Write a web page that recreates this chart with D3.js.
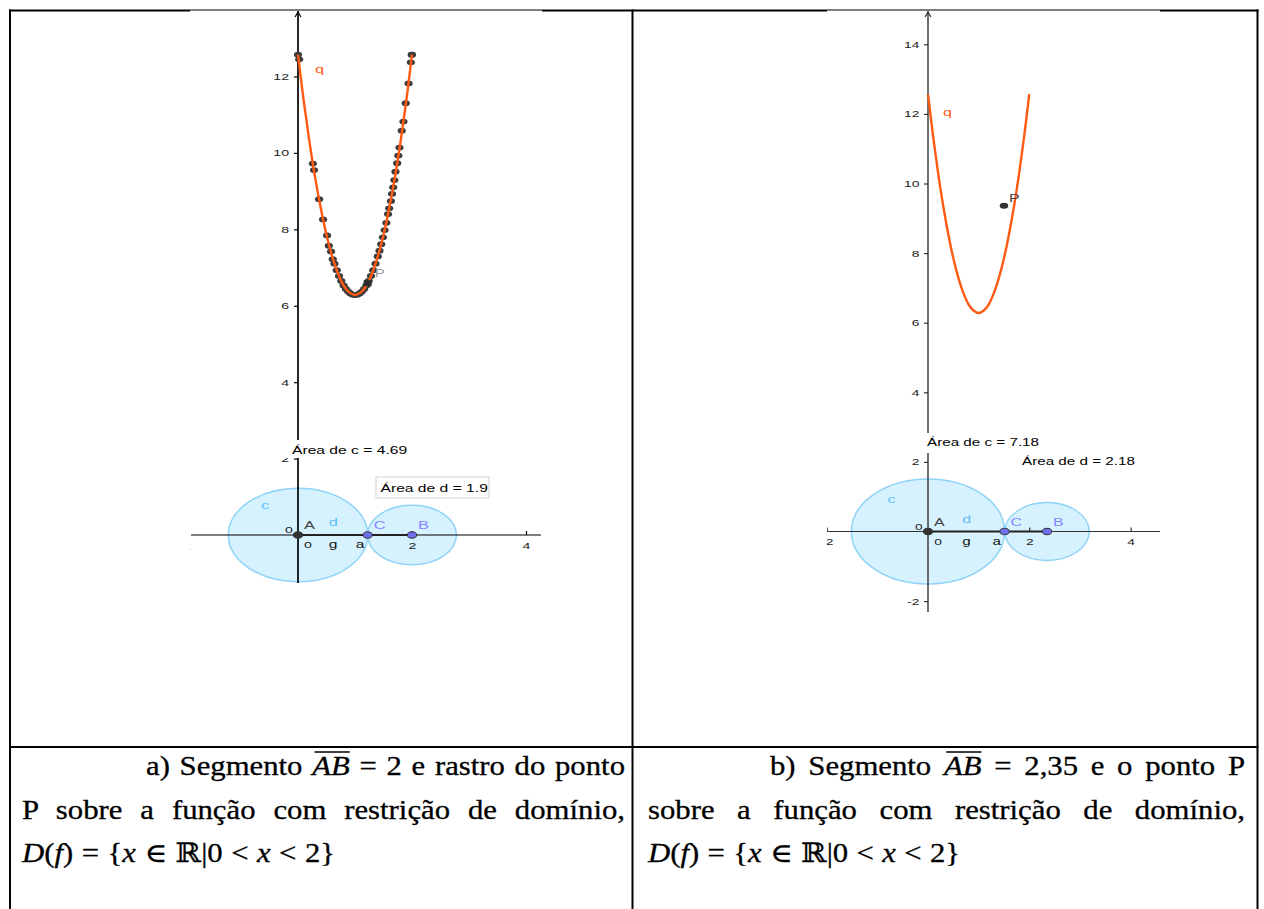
<!DOCTYPE html>
<html>
<head>
<meta charset="utf-8">
<script src="https://cdn.jsdelivr.net/npm/d3@7"></script>
<style>
  html, body { margin: 0; padding: 0; background: #fff; }
  svg { display: block; }
</style>
</head>
<body>
<div id="chart"></div>
<script>
////////////////////////////////////////////////////////////////////
////////////////////////////  Data  ////////////////////////////////
// q(x) (same function in a and b)
const curveX = [0, 0.1, 0.2, 0.3, 0.4, 0.5, 0.6, 0.7, 0.8, 0.9, 1.0,
                1.1, 1.2, 1.3, 1.4, 1.5, 1.6, 1.7, 1.8, 1.9, 2.0];
const curveY = [12.57, 11.37, 10.30, 9.36, 8.55, 7.85, 7.29, 6.85, 6.53, 6.35, 6.28,
                6.35, 6.53, 6.85, 7.29, 7.85, 8.55, 9.36, 10.30, 11.37, 12.57];

// trace ("rastro") of P in panel a
const traceX = [0, 0.02, 0.26, 0.28, 0.37, 0.44, 0.51, 0.54, 0.58, 0.61, 0.64, 0.68,
                0.72, 0.76, 0.80, 0.84, 0.88, 0.92, 0.96, 1.00, 1.04, 1.08, 1.12, 1.16,
                1.20, 1.24, 1.28, 1.32, 1.36, 1.40, 1.43, 1.46, 1.49, 1.52, 1.55, 1.58,
                1.60, 1.63, 1.65, 1.67, 1.69, 1.71, 1.74, 1.76, 1.78, 1.82, 1.85, 1.89,
                1.94, 1.98, 1.995, 2.0];
const traceY = [12.57, 12.45, 9.72, 9.55, 8.79, 8.26, 7.84, 7.57, 7.42, 7.22, 7.10, 6.93,
                6.78, 6.65, 6.53, 6.44, 6.37, 6.32, 6.29, 6.28, 6.29, 6.32, 6.37, 6.44,
                6.53, 6.65, 6.78, 6.93, 7.10, 7.29, 7.44, 7.61, 7.79, 7.98, 8.17, 8.40,
                8.55, 8.74, 8.93, 9.10, 9.29, 9.51, 9.73, 9.93, 10.14, 10.58, 10.82, 11.30,
                11.82, 12.37, 12.57, 12.57];

// ticks
const yTicksA = [2, 4, 6, 8, 10, 12];
const xTicksA = [-2, 2, 4];
const yTicksB = [-2, 2, 4, 6, 8, 10, 12, 14];
const xTicksB = [-2, 2, 4];

// circles c (centre A) and d (centre B)
const centersA = [0, 2];
const radiiA = [1.222, 0.778];
const centersB = [0, 2.35];
const radiiB = [1.512, 0.833];

// point P
const pointA = [1.222, 6.59];
const pointB = [1.50, 9.36];

const areaTextA = ["Área de c = 4.69", "Área de d = 1.9"];
const areaTextB = ["Área de c = 7.18", "Área de d = 2.18"];

// captions
const captionA = [
  [{ t: "a) Segmento " }, { t: "AB", i: true, over: true }, { t: " = 2 e rastro do ponto" }],
  [{ t: "P sobre a função com restrição de domínio," }],
  [{ t: "D", i: true }, { t: "(" }, { t: "f", i: true }, { t: ") = {" }, { t: "x", i: true },
   { t: " ∈ ℝ|0 < " }, { t: "x", i: true }, { t: " < 2}" }]
];
const captionB = [
  [{ t: "b) Segmento " }, { t: "AB", i: true, over: true }, { t: " = 2,35 e o ponto P" }],
  [{ t: "sobre a função com restrição de domínio," }],
  [{ t: "D", i: true }, { t: "(" }, { t: "f", i: true }, { t: ") = {" }, { t: "x", i: true },
   { t: " ∈ ℝ|0 < " }, { t: "x", i: true }, { t: " < 2}" }]
];

////////////////////////////////////////////////////////////////////
////////////////////////////  Init  ////////////////////////////////
const width = 1264, height = 909;
const svg = d3.select("#chart").append("svg")
  .attr("width", width).attr("height", height)
  .style("background", "#fff");

const ggFont = "'Liberation Sans', Arial, sans-serif";
const docFont = "'Liberation Serif', 'Times New Roman', 'DejaVu Serif', serif";
const orange = "#ff5a14";
const blueFill = "#66ccff";
const blueStroke = "#8fd3f7";
const labelBlue = "#5cbff2";
const pointViolet = "#7070ee";

// stretched GeoGebra label (screenshots are widened horizontally)
function ggText(g, x, y, txt, sx, opt = {}) {
  return g.append("text")
    .attr("transform", `translate(${x},${y}) scale(${sx},1)`)
    .attr("font-family", ggFont)
    .attr("font-size", opt.size || 11)
    .attr("fill", opt.fill || "#000")
    .attr("text-anchor", opt.anchor || "start")
    .text(txt);
}

////////////////////////////////////////////////////////////////////
////////////////////////////  Panels  //////////////////////////////
const panels = [
  {
    id: "a", sx: 1.49, xRange: [298, 412], yDomain: [0, 12], yRange: [535, 76.5],
    yTop: 11, yBot: 583, xLeft: 191, xRight: 541, clip: [190, 11, 352, 735],
    axisColor: "#000", axisWidth: 1.7,
    yTicks: yTicksA, xTicks: xTicksA, centers: centersA, radii: radiiA,
    point: pointA, trace: true, areas: areaTextA
  },
  {
    id: "b", sx: 1.45, xRange: [928, 1029.3], yDomain: [0, 14], yRange: [531.5, 44.3],
    yTop: 11, yBot: 612, xLeft: 827, xRight: 1160, clip: [827, 11, 333, 735],
    axisColor: "#333", axisWidth: 1.4,
    yTicks: yTicksB, xTicks: xTicksB, centers: centersB, radii: radiiB,
    point: pointB, trace: false, areas: areaTextB
  }
];

panels.forEach(drawPanel);

function drawPanel(p) {
  const x = d3.scaleLinear().domain([0, 2]).range(p.xRange);
  const y = d3.scaleLinear().domain(p.yDomain).range(p.yRange);
  const sx = p.sx;

  svg.append("clipPath").attr("id", "clip-" + p.id)
    .append("rect")
    .attr("x", p.clip[0]).attr("y", p.clip[1])
    .attr("width", p.clip[2]).attr("height", p.clip[3]);

  const g = svg.append("g").attr("clip-path", `url(#clip-${p.id})`);

  // circles c and d
  g.selectAll("ellipse.circ")
    .data(p.centers.map((c, i) => ({ c, r: p.radii[i] })))
    .join("ellipse")
    .attr("class", "circ")
    .attr("cx", (d) => x(d.c))
    .attr("cy", y(0))
    .attr("rx", (d) => x(d.r) - x(0))
    .attr("ry", (d) => y(0) - y(d.r))
    .attr("fill", blueFill)
    .attr("fill-opacity", 0.26)
    .attr("stroke", blueStroke)
    .attr("stroke-width", 1.5);

  // axes
  g.append("line")
    .attr("x1", p.xLeft).attr("x2", p.xRight)
    .attr("y1", y(0)).attr("y2", y(0))
    .attr("stroke", p.axisColor).attr("stroke-width", 1.2);
  g.append("line")
    .attr("x1", x(0)).attr("x2", x(0))
    .attr("y1", p.yTop).attr("y2", p.yBot)
    .attr("stroke", p.axisColor).attr("stroke-width", p.axisWidth);
  g.append("path")
    .attr("d", `M${x(0) - 3},${p.yTop + 6}L${x(0)},${p.yTop + 1}L${x(0) + 3},${p.yTop + 6}`)
    .attr("fill", "none").attr("stroke", p.axisColor).attr("stroke-width", 1.2);

  const yAxis = d3.axisLeft(y).tickValues(p.yTicks).tickSize(4).tickPadding(2)
    .tickFormat((d) => String(d));
  g.append("g")
    .attr("transform", `translate(${x(0)},0)`)
    .call(yAxis)
    .call((a) => a.select(".domain").remove())
    .attr("font-family", ggFont).attr("font-size", 9.5)
    .call((a) => a.selectAll(".tick line").attr("stroke", p.axisColor).attr("stroke-width", 1.2))
    .call((a) => a.selectAll(".tick text").attr("fill", "#222").attr("transform", `scale(${sx},1)`));

  const xAxis = d3.axisBottom(x).tickValues(p.xTicks).tickSize(-4).tickPadding(7)
    .tickFormat((d) => String(d));
  g.append("g")
    .attr("transform", `translate(0,${y(0)})`)
    .call(xAxis)
    .call((a) => a.select(".domain").remove())
    .attr("font-family", ggFont).attr("font-size", 9.5)
    .call((a) => a.selectAll(".tick line").attr("stroke", p.axisColor).attr("stroke-width", 1.2))
    .call((a) => a.selectAll(".tick text").attr("fill", "#222").attr("transform", `scale(${sx},1)`));

  // origin labels
  ggText(g, x(0) - 13, y(0) - 2, "0", sx, { size: 9.5, fill: "#222" });
  ggText(g, x(0) + 10, y(0) + 13, "0", sx, { size: 9.5, fill: "#222", anchor: "middle" });

  // segment g = AB
  g.append("line")
    .attr("x1", x(p.centers[0])).attr("x2", x(p.centers[1]))
    .attr("y1", y(0)).attr("y2", y(0))
    .attr("stroke", "#222").attr("stroke-width", 2.2);

  // area labels
  const boxA = p.id === "a" ? [281, 440, 124, 18] : [920, 433, 122, 20];
  g.append("rect")
    .attr("x", boxA[0]).attr("y", boxA[1]).attr("width", boxA[2]).attr("height", boxA[3])
    .attr("fill", "#fff");
  if (p.id === "a") {
    ggText(g, 292, 454, p.areas[0], sx, { size: 10.5 });
    g.append("rect")
      .attr("x", 376).attr("y", 477).attr("width", 113).attr("height", 21)
      .attr("fill", "#fff").attr("stroke", "#cfcfcf").attr("stroke-width", 1);
    ggText(g, 380.5, 492, p.areas[1], sx, { size: 10.5 });
  } else {
    ggText(g, 927, 446, p.areas[0], sx, { size: 10.5 });
    ggText(g, 1022, 465, p.areas[1], sx, { size: 10.5 });
  }

  // trace of P
  if (p.trace) {
    g.selectAll("ellipse.trace")
      .data(traceX.map((d, i) => [d, traceY[i]]))
      .join("ellipse")
      .attr("class", "trace")
      .attr("cx", (d) => x(d[0]))
      .attr("cy", (d) => y(d[1]))
      .attr("rx", 4.1).attr("ry", 2.9)
      .attr("fill", "#3c3c3c");
  }

  // curve q
  const line = d3.line()
    .curve(d3.curveCatmullRom)
    .x((d) => x(d[0]))
    .y((d) => y(d[1]));
  g.append("path")
    .datum(curveX.map((d, i) => [d, curveY[i]]))
    .attr("fill", "none")
    .attr("stroke", orange)
    .attr("stroke-width", 2.4)
    .attr("d", line);

  // point P
  if (p.trace) {
    g.append("rect")
      .attr("x", x(p.point[0]) - 4).attr("y", y(p.point[1]) - 3)
      .attr("width", 8).attr("height", 6)
      .attr("fill", "#2a2a2a");
    ggText(g, x(p.point[0]) + 7, y(p.point[1]) - 6, "P", sx, { size: 10, fill: "#999" });
  } else {
    g.append("ellipse")
      .attr("cx", x(p.point[0])).attr("cy", y(p.point[1]))
      .attr("rx", 4.3).attr("ry", 3)
      .attr("fill", "#333");
    ggText(g, x(p.point[0]) + 5, y(p.point[1]) - 4, "P", sx, { size: 11, fill: "#444" });
  }

  // q label
  ggText(g, x(0) + 12 + (p.id === "a" ? 5 : 3), y(12) - (p.id === "a" ? 4 : -2), "q", sx, { size: 11, fill: orange });

  // points A, C, B
  const pts = [p.centers[0], p.radii[0], p.centers[1]];
  g.selectAll("ellipse.pt")
    .data(pts)
    .join("ellipse")
    .attr("class", "pt")
    .attr("cx", (d) => x(d))
    .attr("cy", y(0))
    .attr("rx", 4.6).attr("ry", 3.2)
    .attr("fill", (d, i) => (i === 0 ? "#333" : pointViolet))
    .attr("stroke", "#333").attr("stroke-width", 1);

  // labels of objects
  ggText(g, x(0) + 6, y(0) - 6, "A", sx, { size: 11, fill: "#444" });
  ggText(g, x(p.radii[0]) + 6, y(0) - 6, "C", sx, { size: 11, fill: "#8585ff" });
  ggText(g, x(p.centers[1]) + 6, y(0) - 6, "B", sx, { size: 11, fill: "#8585ff" });
  ggText(g, x(-p.radii[0] * 0.53), y(p.radii[0] * 0.55), "c", sx, { size: 11, fill: labelBlue });
  ggText(g, x(p.radii[0] * 0.5) - 4, y(0) - 9, "d", sx, { size: 11, fill: labelBlue });
  ggText(g, x(p.radii[0] * 0.5) - 4, y(0) + 13, "g", sx, { size: 10.5, fill: "#111" });
  ggText(g, x(p.radii[0]) - 12, y(0) + 13, "a", sx, { size: 10.5, fill: "#111" });
}

////////////////////////////////////////////////////////////////////
////////////////////////////  Table  ///////////////////////////////
const rowY = 747;
const border = svg.append("g").attr("stroke", "#000");
[[9, 190], [542, 827], [1160, 1258.5]].forEach((s) =>
  border.append("line").attr("x1", s[0]).attr("x2", s[1]).attr("y1", 10.5).attr("y2", 10.5).attr("stroke-width", 2.2));
[[190, 542], [827, 1160]].forEach((s) =>
  border.append("line").attr("x1", s[0]).attr("x2", s[1]).attr("y1", 10).attr("y2", 10).attr("stroke-width", 1.1));
[10, 632.5, 1257.5].forEach((vx) =>
  border.append("line").attr("x1", vx).attr("x2", vx).attr("y1", 9.5).attr("y2", height).attr("stroke-width", 2));
border.append("line").attr("x1", 9).attr("x2", 1258.5).attr("y1", rowY).attr("y2", rowY).attr("stroke-width", 2);

////////////////////////////////////////////////////////////////////
////////////////////////////  Captions  ////////////////////////////
const captionLines = [
  { lines: captionA, spans: [[146, 625], [22, 625], [22, 335]] },
  { lines: captionB, spans: [[770, 1245], [648, 1245], [648, 960]] }
];
const baselines = [775, 818.5, 862];
const capStretch = 1.16; // document text in the source is widened a bit

captionLines.forEach((cap) => {
  cap.lines.forEach((segs, li) => {
    const [x0, x1] = cap.spans[li];
    const lg = svg.append("g")
      .attr("transform", `translate(${x0},${baselines[li]}) scale(${capStretch},1)`);
    const t = lg.append("text")
      .attr("x", 0).attr("y", 0)
      .attr("font-family", docFont)
      .attr("font-size", 26.5)
      .attr("fill", "#000")
      .attr("stroke", "#000")
      .attr("stroke-width", 0.3)
      .style("white-space", "pre");
    segs.forEach((s) => {
      t.append("tspan").attr("font-style", s.i ? "italic" : null).text(s.t);
    });
    // justify by widening word gaps
    const node = t.node();
    const target = (x1 - x0) / capStretch;
    const natural = node.getComputedTextLength();
    const spaces = (node.textContent.match(/ /g) || []).length;
    if (spaces) t.attr("word-spacing", Math.max(0, (target - natural) / spaces));

    // overline on AB
    let idx = 0;
    segs.forEach((s) => {
      if (s.over) {
        const a = node.getExtentOfChar(idx);
        const b = node.getExtentOfChar(idx + s.t.length - 1);
        lg.append("line")
          .attr("x1", a.x + 2).attr("x2", b.x + b.width)
          .attr("y1", -23).attr("y2", -23)
          .attr("stroke", "#000").attr("stroke-width", 1.3);
      }
      idx += s.t.length;
    });
  });
});
</script>
</body>
</html>
